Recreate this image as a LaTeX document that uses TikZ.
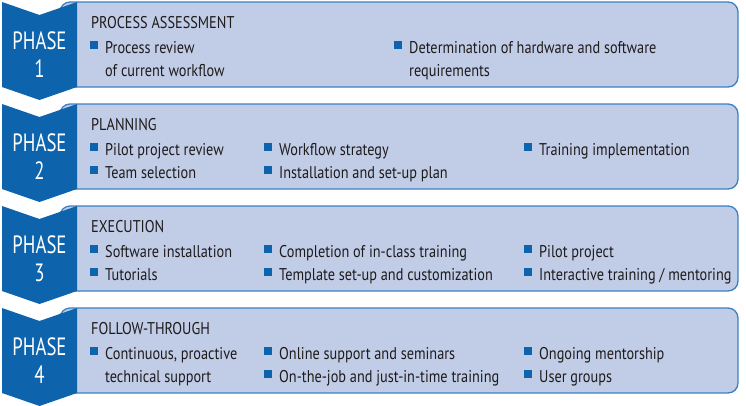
\documentclass[tikz,border=0pt]{standalone}
\usepackage{fontspec}
\setmainfont{PT Sans}[FakeStretch=0.84]
\newfontfamily\phasefont{PT Sans}[FakeStretch=0.75]
\usepackage{xcolor}
\usepackage{tikz}

\definecolor{phaseblue}{RGB}{14,100,172}
\definecolor{panelfill}{RGB}{193,204,230}
\definecolor{panelline}{RGB}{60,128,196}
\definecolor{textgray}{RGB}{30,27,28}

\tikzset{
  panel/.style={fill=panelfill, draw=panelline, line width=1.3pt, rounded corners=10pt},
  chevron/.style={fill=phaseblue},
  phasetxt/.style={anchor=base, text=white, font=\phasefont\fontsize{25}{25}\selectfont, inner sep=0pt},
  heading/.style={anchor=base west, text=textgray, font=\fontsize{17}{17}\selectfont, inner sep=0pt},
  itemtxt/.style={anchor=base west, text=textgray, font=\fontsize{17}{17}\selectfont, inner sep=0pt}
}

% bullet square plus text: name, x of square, baseline, text
\newcommand{\bitem}[4]{%
  \fill[phaseblue] (#2,#3-12) rectangle (#2+8,#3-4);
  \node[itemtxt] (#1) at (#2+15,#3) {#4};
}

\begin{document}
\begin{tikzpicture}[x=1pt,y=-1pt]
    \useasboundingbox (0,0) rectangle (746,405);

    % panels and chevrons
    \foreach \n/\t in {1/2,2/104,3/206,4/308}{
      \draw[panel]   (60,\t) -- (738,\t) -- (738,\t+85) -- (60,\t+85) -- cycle;
      \fill[chevron] (2,\t) -- (39.5,\t+13) -- (77,\t) -- (77,\t+85)
                     -- (39.5,\t+98) -- (2,\t+85) -- cycle;
      \node[phasetxt] (ph\n)  at (39.5,\t+47) {PHASE};
      \node[phasetxt] (num\n) at (39.5,\t+75) {\n};
    }

    % phase 1
    \node[heading] (title1) at (91,28) {PROCESS ASSESSMENT};
    \bitem{review}{90}{53}{Process review}
    \node[itemtxt] (review2) at (105,76) {of current workflow};
    \bitem{hardware}{394}{53}{Determination of hardware and software}
    \node[itemtxt] (hardware2) at (409,76) {requirements};

    % phase 2
    \node[heading] (title2) at (91,130) {PLANNING};
    \bitem{pilotrev}{90}{155}{Pilot project review}
    \bitem{team}{90}{178}{Team selection}
    \bitem{strategy}{264}{155}{Workflow strategy}
    \bitem{setupplan}{264}{178}{Installation and set-up plan}
    \bitem{trainimpl}{524}{155}{Training implementation}

    % phase 3
    \node[heading] (title3) at (91,232) {EXECUTION};
    \bitem{install}{90}{257}{Software installation}
    \bitem{tutorials}{90}{280}{Tutorials}
    \bitem{inclass}{264}{257}{Completion of in-class training}
    \bitem{template}{264}{280}{Template set-up and customization}
    \bitem{pilot}{524}{257}{Pilot project}
    \bitem{interactive}{524}{280}{Interactive training / mentoring}

    % phase 4
    \node[heading] (title4) at (91,334) {FOLLOW-THROUGH};
    \bitem{support}{90}{359}{Continuous, proactive}
    \node[itemtxt] (support2) at (105,382) {technical support};
    \bitem{online}{264}{359}{Online support and seminars}
    \bitem{onjob}{264}{382}{On-the-job and just-in-time training}
    \bitem{mentor}{524}{359}{Ongoing mentorship}
    \bitem{users}{524}{382}{User groups}
\end{tikzpicture}
\end{document}
